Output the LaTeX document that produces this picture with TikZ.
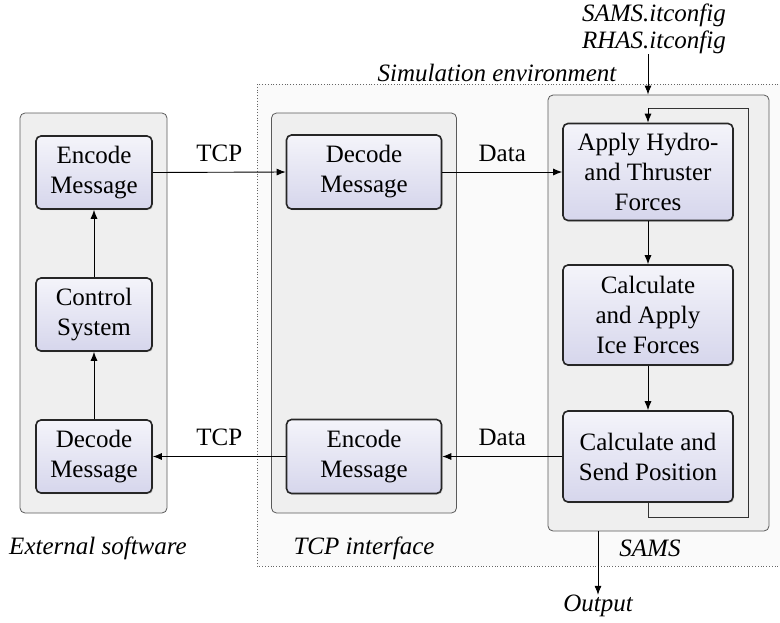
\documentclass[tikz,border=0pt]{standalone}
\usepackage{fontspec}
\setmainfont{Liberation Serif}
\usetikzlibrary{arrows.meta,shadows}
\definecolor{boxtop}{HTML}{F4F4FA}
\definecolor{boxbot}{HTML}{D6D6EC}
\definecolor{contfill}{HTML}{EFEFEF}
\definecolor{contline}{HTML}{5A5A5A}
\definecolor{envfill}{HTML}{FAFAFA}
\tikzset{
  procbox/.style={draw=black!85, line width=1.6pt, rounded corners=5pt,
    top color=boxtop, bottom color=boxbot, align=center,
    font=\fontsize{25}{30}\selectfont, inner sep=0pt,
    drop shadow={shadow xshift=1.2pt, shadow yshift=-1.2pt, opacity=0.25}},
  container/.style={draw=contline, line width=0.8pt, rounded corners=5pt, fill=contfill, inner sep=0pt},
  lbl/.style={font=\fontsize{25}{28}\selectfont\itshape, inner sep=0pt},
  elbl/.style={font=\fontsize{25}{28}\selectfont, inner sep=0pt},
  arr/.style={draw=black, line width=0.9pt, -{Latex[length=9pt,width=7pt]}},
  ln/.style={draw=black!80, line width=0.9pt}
}
\begin{document}
\begin{tikzpicture}[x=1pt,y=-1pt]
\useasboundingbox (0,0) rectangle (780,622);
% simulation environment
\draw[dotted, draw=black!60, line width=0.8pt, fill=envfill] (257,84) rectangle (800,566);
\node[lbl] (envlbl) at (497,73) {Simulation environment};
% containers
\node[container, minimum width=147pt, minimum height=400pt] (ext) at (93.5,313) {};
\node[container, minimum width=185pt, minimum height=400pt] (tcp) at (364,313) {};
\node[container, minimum width=221pt, minimum height=436pt] (sams) at (658.5,313) {};
\node[lbl] (extlbl) at (98,548) {External software};
\node[lbl] (tcplbl) at (364,548) {TCP interface};
\node[lbl] (samslbl) at (650,548) {SAMS};
% external software
\node[procbox, minimum width=116pt, minimum height=73pt] (encx) at (94,172.5) {Encode\\Message};
\node[procbox, minimum width=116pt, minimum height=73pt] (ctrl) at (94,314.5) {Control\\System};
\node[procbox, minimum width=116pt, minimum height=73pt] (decx) at (94,456.5) {Decode\\Message};
% tcp interface
\node[procbox, minimum width=155pt, minimum height=74pt] (dect) at (364,172) {Decode\\Message};
\node[procbox, minimum width=155pt, minimum height=74pt] (enct) at (364,456.5) {Encode\\Message};
% SAMS
\node[procbox, minimum width=170pt, minimum height=97pt] (apply) at (648,172) {Apply Hydro-\\and Thruster\\Forces};
\node[procbox, minimum width=170pt, minimum height=100pt] (ice) at (648,315) {Calculate\\and Apply\\Ice Forces};
\node[procbox, minimum width=170pt, minimum height=91pt] (send) at (648,456.5) {Calculate and\\Send Position};
% config and output
\node[lbl, align=center, font=\fontsize{25}{27}\selectfont\itshape] (cfg) at (654,29) {SAMS.itconfig\\RHAS.itconfig};
\node[lbl] (out) at (598,606) {Output};
% connectors
\draw[arr] (encx.east) -- node[elbl, above=10pt] (tcp1) {TCP} (dect.west);
\draw[arr] (dect.east) -- node[elbl, above=10pt] (data1) {Data} (apply.west);
\draw[arr] (send.west) -- node[elbl, above=10pt] (data2) {Data} (enct.east);
\draw[arr] (enct.west) -- node[elbl, above=10pt] (tcp2) {TCP} (decx.east);
\draw[arr] (decx.north) -- (ctrl.south);
\draw[arr] (ctrl.north) -- (encx.south);
\draw[arr] (apply.south) -- (ice.north);
\draw[arr] (ice.south) -- (send.north);
\coordinate (lb) at (648,517);
\coordinate (lr) at (748,517);
\coordinate (lt) at (748,108);
\coordinate (lt2) at (648,108);
\draw[ln] (send.south) -- (lb) -- (lr) -- (lt) -- (lt2);
\draw[arr] (lt2) -- (apply.north);
\draw[arr] (cfg.south -| lt2) -- (lt2 |- sams.north);
\draw[arr] (out.north |- sams.south) -- (out.north);
\end{tikzpicture}
\end{document}
